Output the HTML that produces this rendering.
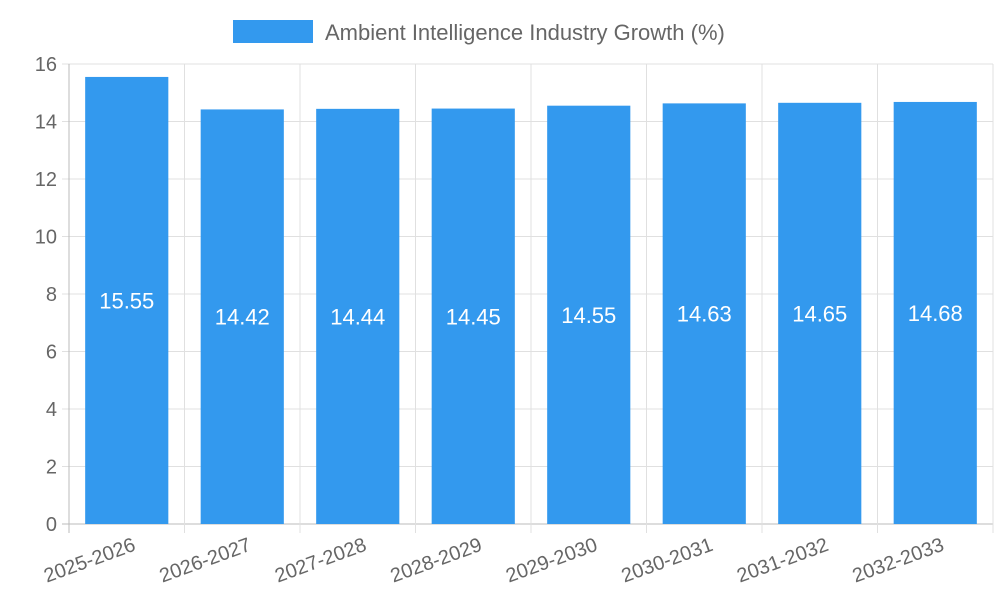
<!DOCTYPE html>
<html><head><meta charset="utf-8"><style>
body{margin:0;background:#fff;}
svg{display:block;font-family:"Liberation Sans",sans-serif;}
</style></head><body>
<svg id="chart" width="1000" height="600">
<g id="legend">
<rect x="233" y="20" width="80" height="23" fill="#3399ee"/>
<text x="325" y="40" font-size="22" fill="#666">Ambient Intelligence Industry Growth (%)</text>
</g>
<g id="grid"></g>
<g id="bars"></g>
<g id="axes"></g>
</svg>
<script>
const categories=["2025-2026","2026-2027","2027-2028","2028-2029","2029-2030","2030-2031","2031-2032","2032-2033"];
const values=[15.55,14.42,14.44,14.45,14.55,14.63,14.65,14.68];
const yTicks=[0,2,4,6,8,10,12,14,16];
const NS="http://www.w3.org/2000/svg";
const L=69,R=993,T=64,B=524,yMax=16;
const band=(R-L)/categories.length;
const y=v=>B-(v/yMax)*(B-T);
const x=i=>L+band*i;
function mk(tag,attrs,parent,text){const e=document.createElementNS(NS,tag);for(const k in attrs)e.setAttribute(k,attrs[k]);if(text!==undefined)e.textContent=text;parent.appendChild(e);return e;}
const grid=document.getElementById('grid'),bars=document.getElementById('bars'),axes=document.getElementById('axes');
yTicks.forEach(t=>{
  const ln=mk('line',{x1:L-7,x2:R,y1:y(t),y2:y(t),stroke:t===0?'#bbb':'#e0e0e0','stroke-width':1},grid);
  
  
  const tx=mk('text',{x:L-12,y:y(t)+7,'text-anchor':'end','font-size':20,fill:'#666'},axes,String(t));
  
  
});
for(let i=0;i<=categories.length;i++){
  const ln=mk('line',{x1:x(i),x2:x(i),y1:T,y2:B+9,stroke:i===0?'#bbb':'#e0e0e0','stroke-width':1},grid);
  
  
}
categories.forEach((c,i)=>{
  const bw=band*0.72,bx=x(i)+(band-bw)/2;
  const r=mk('rect',{x:bx,y:y(values[i]),width:bw,height:B-y(values[i]),fill:'#3399ee'},bars);
  
  
  const vl=mk('text',{x:x(i)+band/2,y:(y(values[i])+B)/2+8,'text-anchor':'middle','font-size':22,fill:'#fff'},bars,values[i].toFixed(2));
  
  
  const cx=x(i)+band/2+10,cy=B+26;
  const tl=mk('text',{x:cx,y:cy,'text-anchor':'end','font-size':20,fill:'#666',transform:`rotate(-20 ${cx} ${cy})`},axes,c);
  
  
});
</script>
</body></html>
